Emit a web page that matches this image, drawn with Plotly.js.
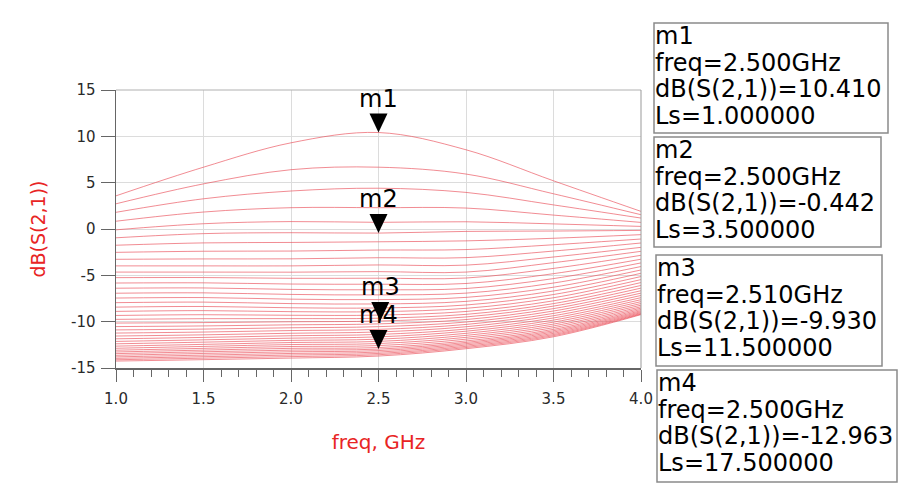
<!DOCTYPE html>
<html>
<head>
<meta charset="utf-8">
<script src="https://cdn.plot.ly/plotly-3.0.1.min.js"></script>
<style>html,body{margin:0;padding:0;background:#fff;} #chart{width:900px;height:490px;}</style>
</head>
<body>
<div id="chart"></div>
<script>
// ---- data ----
const freqGHz = [1.0, 1.5, 2.0, 2.5, 3.0, 3.5, 4.0];
const lsValues = [1.0, 1.5, 2.0, 2.5, 3.0, 3.5, 4.0, 4.5, 5.0, 5.5, 6.0, 6.5, 7.0, 7.5, 8.0, 8.5, 9.0, 9.5, 10.0, 10.5,
  11.0, 11.5, 12.0, 12.5, 13.0, 13.5, 14.0, 14.5, 15.0, 15.5, 16.0, 16.5, 17.0, 17.5, 18.0, 18.5, 19.0, 19.5, 20.0];

// dB(S(2,1)) of every Ls curve, one array per frequency column
const db_1p0 = [3.58, 2.72, 1.80, 0.84, -0.09, -0.95, -1.75, -2.52, -3.27, -3.98, -4.65, -5.25, -5.83, -6.39, -6.93, -7.45, -7.95, -8.43, -8.89, -9.33, -9.75, -10.15, -10.53, -10.89, -11.23, -11.55, -11.85, -12.13, -12.39, -12.64, -12.87, -13.08, -13.27, -13.45, -13.63, -13.80, -13.96, -14.11, -14.25];
const db_1p5 = [6.67, 4.87, 3.26, 1.83, 0.57, -0.50, -1.50, -2.40, -3.23, -3.98, -4.65, -5.24, -5.81, -6.36, -6.89, -7.40, -7.89, -8.36, -8.81, -9.25, -9.68, -10.10, -10.46, -10.80, -11.12, -11.42, -11.70, -11.96, -12.21, -12.45, -12.67, -12.88, -13.07, -13.25, -13.43, -13.61, -13.78, -13.94, -14.10];
const db_2p0 = [9.30, 6.40, 4.10, 2.30, 0.80, -0.40, -1.45, -2.38, -3.22, -3.98, -4.66, -5.32, -5.94, -6.52, -7.06, -7.57, -8.05, -8.50, -8.92, -9.31, -9.67, -10.01, -10.34, -10.66, -10.96, -11.25, -11.52, -11.78, -12.02, -12.25, -12.47, -12.68, -12.88, -13.07, -13.25, -13.43, -13.60, -13.77, -13.93];
const db_2p5 = [10.41, 6.67, 4.40, 2.30, 0.72, -0.44, -1.38, -2.27, -3.10, -3.88, -4.60, -5.31, -5.96, -6.56, -7.11, -7.62, -8.09, -8.52, -8.92, -9.29, -9.63, -9.93, -10.24, -10.54, -10.83, -11.11, -11.38, -11.64, -11.89, -12.13, -12.36, -12.58, -12.79, -12.96, -13.12, -13.28, -13.43, -13.57, -13.71];
const db_3p0 = [8.55, 5.93, 3.95, 2.26, 0.78, -0.26, -1.28, -2.22, -3.09, -3.90, -4.65, -5.29, -5.88, -6.42, -6.92, -7.38, -7.81, -8.20, -8.56, -8.90, -9.21, -9.49, -9.77, -10.04, -10.30, -10.55, -10.80, -11.03, -11.26, -11.48, -11.69, -11.89, -12.08, -12.24, -12.38, -12.52, -12.66, -12.79, -12.92];
const db_3p5 = [5.20, 3.80, 2.60, 1.50, 0.55, -0.22, -1.00, -1.70, -2.38, -3.02, -3.63, -4.25, -4.82, -5.35, -5.83, -6.28, -6.69, -7.07, -7.42, -7.75, -8.05, -8.32, -8.59, -8.85, -9.11, -9.36, -9.60, -9.83, -10.05, -10.26, -10.46, -10.65, -10.83, -10.98, -11.12, -11.26, -11.39, -11.51, -11.63];
const db_4p0 = [1.90, 1.54, 1.18, 0.71, 0.28, -0.15, -0.61, -1.08, -1.51, -1.98, -2.41, -2.84, -3.26, -3.66, -4.05, -4.42, -4.78, -5.13, -5.46, -5.78, -6.09, -6.38, -6.66, -6.92, -7.17, -7.41, -7.63, -7.84, -8.04, -8.22, -8.39, -8.54, -8.68, -8.81, -8.92, -9.02, -9.11, -9.18, -9.24];

// markers
const markerNames = ['m1', 'm2', 'm3', 'm4'];
const markerFreq = [2.5, 2.5, 2.51, 2.5];
const markerDb = [10.410, -0.442, -9.930, -12.963];
const markerLs = [1.0, 3.5, 11.5, 17.5];

// ticks
const xTickVals = [1.0, 1.5, 2.0, 2.5, 3.0, 3.5, 4.0];
const xTickText = ['1.0', '1.5', '2.0', '2.5', '3.0', '3.5', '4.0'];
const yTickVals = [-15, -10, -5, 0, 5, 10, 15];
const yTickText = ['-15', '-10', '-5', '0', '5', '10', '15'];

// ---- layout geometry (pixels) ----
const W = 900, H = 490, L = 116, R = 641, T = 90, B = 368;
const px = p => (p - L) / (R - L);
const py = p => (B - p) / (B - T);
const FONT = 'DejaVu Sans, Liberation Sans, Arial, sans-serif';

const columns = [db_1p0, db_1p5, db_2p0, db_2p5, db_3p0, db_3p5, db_4p0];

const traces = lsValues.map((ls, i) => ({
  type: 'scatter', mode: 'lines',
  x: freqGHz, y: columns.map(c => c[i]),
  line: {color: 'rgba(232,70,80,0.62)', width: 1, shape: 'spline', smoothing: 1},
  name: 'Ls=' + ls.toFixed(1), hoverinfo: 'skip'
}));

const shapes = [
  {type: 'line', xref: 'paper', yref: 'paper', x0: 0, x1: 1, y0: 1, y1: 1, line: {color: '#b0b0b0', width: 1}},
  {type: 'line', xref: 'paper', yref: 'paper', x0: 1, x1: 1, y0: 0, y1: 1, line: {color: '#999', width: 1}}
];
// marker triangles: tip at the marker point
markerFreq.forEach((f, i) => {
  shapes.push({type: 'path', xref: 'x', yref: 'y', xsizemode: 'pixel', ysizemode: 'pixel',
    xanchor: f, yanchor: markerDb[i], path: 'M-9,19 L9,19 L0,0 Z',
    fillcolor: '#000', line: {width: 0}, layer: 'above'});
});

const annotations = [];
markerFreq.forEach((f, i) => {
  annotations.push({x: f, y: markerDb[i], xref: 'x', yref: 'y', text: markerNames[i], showarrow: false,
    xanchor: 'center', yanchor: 'bottom', yshift: 18, font: {family: FONT, size: 24, color: '#000'}});
});

// readout boxes [left, top, right, bottom] in pixels
const boxes = [[654, 23, 888, 133], [654, 137, 881, 247], [656, 255, 882, 366], [657, 370, 897, 482]];
boxes.forEach((b, i) => {
  shapes.push({type: 'rect', xref: 'paper', yref: 'paper', x0: px(b[0]), x1: px(b[2]), y0: py(b[1]), y1: py(b[3]),
    line: {color: '#8a8a8a', width: 1.5}, fillcolor: 'rgba(0,0,0,0)'});
  const lines = [markerNames[i], 'freq=' + markerFreq[i].toFixed(3) + 'GHz',
    'dB(S(2,1))=' + markerDb[i].toFixed(3), 'Ls=' + markerLs[i].toFixed(6)];
  lines.forEach((t, k) => {
    annotations.push({xref: 'paper', yref: 'paper', x: px(b[0] + 1), y: py(b[1] + 21.5 + 26.6 * k - 8.5),
      xanchor: 'left', yanchor: 'middle', text: t, showarrow: false, borderpad: 0, borderwidth: 0,
      font: {family: FONT, size: 24, color: '#000'}});
  });
});

const layout = {
  width: W, height: H,
  margin: {l: L, r: W - R, t: T, b: H - B, pad: 0},
  showlegend: false,
  paper_bgcolor: '#fff', plot_bgcolor: '#fff',
  font: {family: FONT, color: '#222'},
  xaxis: {
    range: [1, 4], tickmode: 'array', tickvals: xTickVals, ticktext: xTickText,
    showgrid: true, gridcolor: '#dcdcdc', gridwidth: 1, zeroline: false,
    showline: true, linecolor: '#666', linewidth: 1.5,
    ticks: 'outside', ticklen: 12, tickwidth: 1, tickcolor: '#666', ticklabelstandoff: 4,
    tickfont: {family: FONT, size: 15, color: '#2a2a2a'},
    minor: {dtick: 0.1, tick0: 1, ticks: 'outside', ticklen: 7, tickwidth: 1, tickcolor: '#666', showgrid: false},
    title: {text: 'freq, GHz', font: {family: FONT, size: 20, color: '#e82424'}, standoff: 28},
    automargin: false, fixedrange: true
  },
  yaxis: {
    range: [-15, 15], tickmode: 'array', tickvals: yTickVals, ticktext: yTickText,
    showgrid: true, gridcolor: '#dcdcdc', gridwidth: 1, zeroline: false,
    showline: true, linecolor: '#666', linewidth: 1.5,
    ticks: 'outside', ticklen: 14, tickwidth: 1, tickcolor: '#666', ticklabelstandoff: 2,
    tickfont: {family: FONT, size: 15, color: '#2a2a2a'},
    title: {text: 'dB(S(2,1))', font: {family: FONT, size: 19, color: '#e82424'}, standoff: 20},
    automargin: false, fixedrange: true
  },
  shapes: shapes,
  annotations: annotations
};

Plotly.newPlot('chart', traces, layout, {staticPlot: true, displayModeBar: false});
</script>
</body>
</html>
